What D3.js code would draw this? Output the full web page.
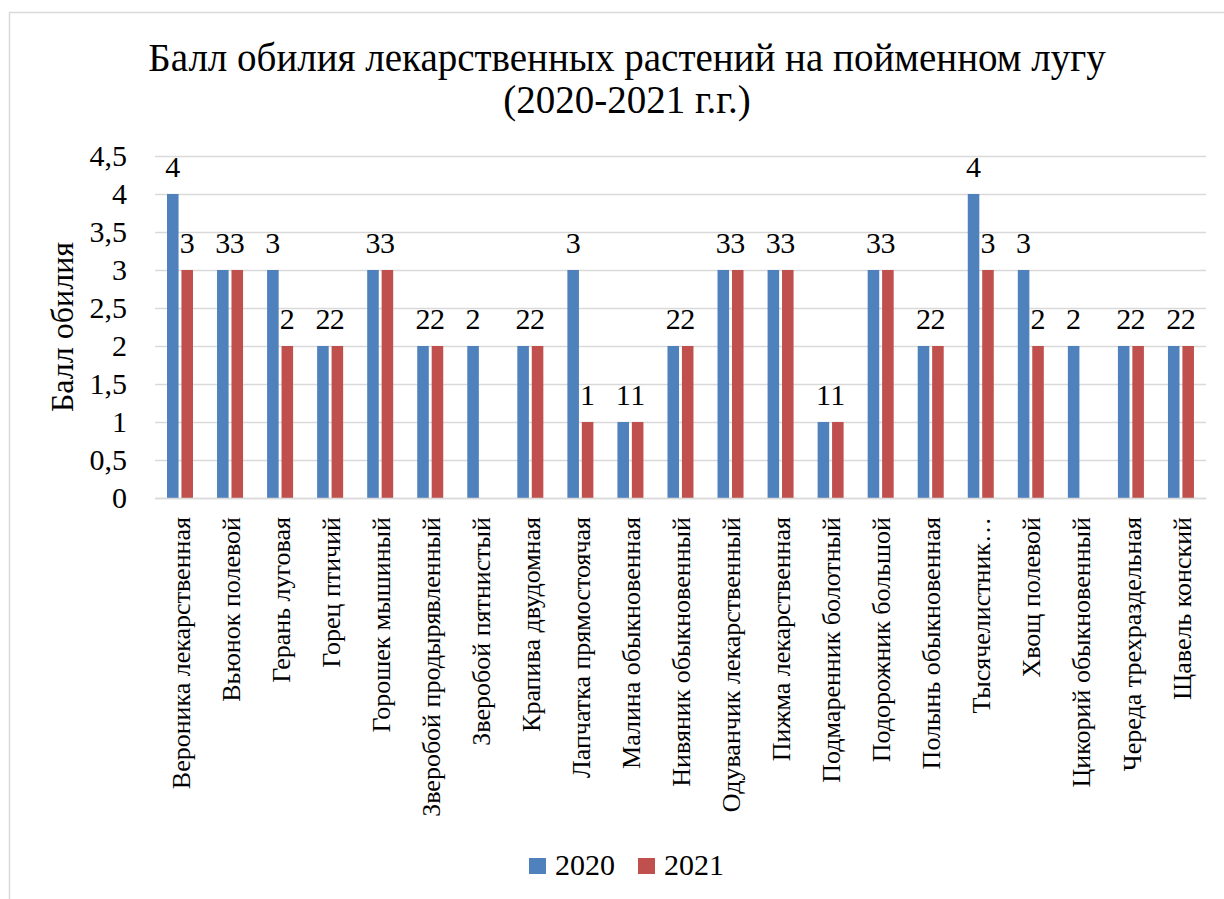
<!DOCTYPE html>
<html>
<head>
<meta charset="utf-8">
<script src="https://cdn.jsdelivr.net/npm/d3@7"></script>
</head>
<body style="margin:0;background:#fff;overflow:hidden">
<svg id="chart" width="1224" height="899" style="display:block" font-family="Liberation Serif"></svg>
<script>
// data
const categories = [
  "Вероника лекарственная", "Вьюнок полевой", "Герань луговая", "Горец птичий",
  "Горошек мышиный", "Зверобой продырявленный", "Зверобой пятнистый", "Крапива двудомная",
  "Лапчатка прямостоячая", "Малина обыкновенная", "Нивяник обыкновенный",
  "Одуванчик лекарственный", "Пижма лекарственная", "Подмаренник болотный",
  "Подорожник большой", "Полынь обыкновенная", "Тысячелистник…", "Хвощ полевой",
  "Цикорий обыкновенный", "Череда трехраздельная", "Щавель конский"
];
const values2020 = [4, 3, 3, 2, 3, 2, 2, 2, 3, 1, 2, 3, 3, 1, 3, 2, 4, 3, 2, 2, 2];
const values2021 = [3, 3, 2, 2, 3, 2, null, 2, 1, 1, 2, 3, 3, 1, 3, 2, 3, 2, null, 2, 2];
const seriesNames = ["2020", "2021"];
const seriesColors = ["#4f81bd", "#c0504d"];
const yTicks = [0, 0.5, 1, 1.5, 2, 2.5, 3, 3.5, 4, 4.5];

const FONT = "Liberation Serif";

const svg = d3.select("#chart");
const margin = { top: 156, left: 155, right: 18, bottom: 401 };
const width = 1224, height = 899;
const chartWidth = width - margin.left - margin.right;
const chartHeight = height - margin.top - margin.bottom;

// outer chart border (runs off the right and bottom edge)
svg.append("rect")
  .attr("x", 9.5).attr("y", 12.5)
  .attr("width", 1230).attr("height", 900)
  .attr("fill", "#fff")
  .attr("stroke", "#d9d9d9")
  .attr("stroke-width", 1.5);

// title
const title = svg.append("text")
  .attr("text-anchor", "middle")
  .attr("font-size", 39)
  .style("font-family", FONT)
  .attr("fill", "#000");
title.append("tspan").attr("x", 627).attr("y", 71).text("Балл обилия лекарственных растений на пойменном лугу");
title.append("tspan").attr("x", 627).attr("y", 113).text("(2020-2021 г.г.)");

const chart = svg.append("g")
  .attr("transform", `translate(${margin.left},${margin.top})`);

const x0 = d3.scaleBand().domain(categories).range([0, chartWidth]).padding(0);
const x1 = d3.scaleBand().domain(seriesNames).range([12, 38]).paddingInner(0.2);
const y = d3.scaleLinear().domain([0, 4.5]).range([chartHeight, 0]);

// gridlines
chart.append("g")
  .selectAll("line")
  .data(yTicks)
  .join("line")
  .attr("x1", 0).attr("x2", chartWidth)
  .attr("y1", d => Math.round(y(d)) + 0.5)
  .attr("y2", d => Math.round(y(d)) + 0.5)
  .attr("stroke", "#d9d9d9")
  .attr("stroke-width", 1.3);

// y tick labels
const yAxis = chart.append("g")
  .call(d3.axisLeft(y).tickValues(yTicks).tickSize(0).tickPadding(28)
    .tickFormat(d => String(d).replace(".", ",")));
yAxis.attr("font-family", FONT);
yAxis.select(".domain").remove();
yAxis.selectAll("text")
  .style("font-family", FONT)
  .attr("font-size", 30)
  .attr("fill", "#000");

// y axis title
svg.append("text")
  .attr("transform", `translate(73,${margin.top + chartHeight / 2}) rotate(-90)`)
  .attr("text-anchor", "middle")
  .style("font-family", FONT)
  .attr("font-size", 32)
  .attr("fill", "#000")
  .text("Балл обилия");

// bars
const rows = categories.map((c, i) => ({
  category: c,
  items: [
    { series: "2020", value: values2020[i] },
    { series: "2021", value: values2021[i] }
  ].filter(d => d.value != null)
}));

const groups = chart.selectAll(".cat")
  .data(rows)
  .join("g")
  .attr("class", "cat")
  .attr("transform", d => `translate(${x0(d.category)},0)`);

groups.selectAll("rect")
  .data(d => d.items)
  .join("rect")
  .attr("x", d => x1(d.series))
  .attr("width", x1.bandwidth())
  .attr("y", d => y(d.value))
  .attr("height", d => chartHeight - y(d.value))
  .attr("fill", d => seriesColors[seriesNames.indexOf(d.series)]);

// data labels
groups.selectAll("text.lbl")
  .data(d => d.items)
  .join("text")
  .attr("class", "lbl")
  .attr("x", d => x1(d.series) + x1.bandwidth() / 2)
  .attr("y", d => y(d.value) - 17)
  .attr("text-anchor", "middle")
  .style("font-family", FONT)
  .attr("font-size", 30)
  .attr("fill", "#000")
  .text(d => d.value);

// category labels (vertical)
const xAxis = chart.append("g")
  .attr("transform", `translate(0,${chartHeight})`)
  .call(d3.axisBottom(x0).tickSize(0).tickPadding(0));
xAxis.attr("font-family", FONT);
xAxis.select(".domain")
  .attr("stroke", "#d9d9d9")
  .attr("stroke-width", 1.3);
xAxis.selectAll("text")
  .style("font-family", FONT)
  .attr("font-size", 26)
  .attr("fill", "#000")
  .attr("text-anchor", "end")
  .attr("transform", "translate(1,19) rotate(-90)")
  .attr("x", 0)
  .attr("y", 0)
  .attr("dy", "0.33em");

// legend
const legend = svg.append("g").attr("transform", "translate(529,875)");
const legendItems = legend.selectAll("g")
  .data(seriesNames)
  .join("g")
  .attr("transform", (d, i) => `translate(${i * 109},0)`);
legendItems.append("rect")
  .attr("x", 0).attr("y", -17)
  .attr("width", 17).attr("height", 16)
  .attr("fill", (d, i) => seriesColors[i]);
legendItems.append("text")
  .attr("x", 26).attr("y", 0)
  .style("font-family", FONT)
  .attr("font-size", 30)
  .attr("fill", "#000")
  .text(d => d);
</script>
</body>
</html>
